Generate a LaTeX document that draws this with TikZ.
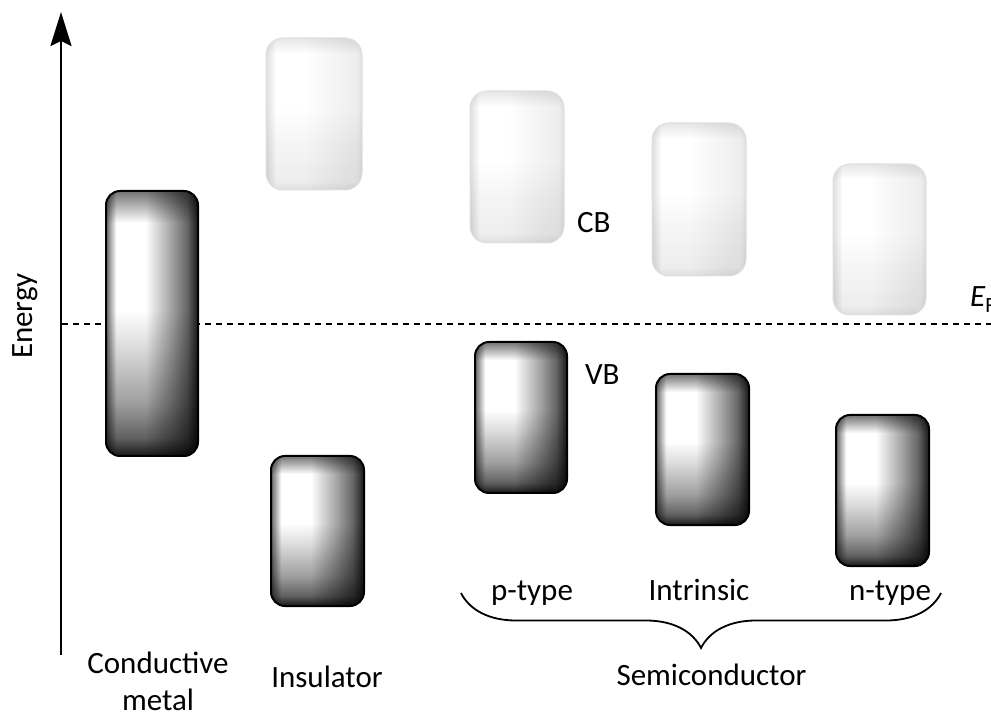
\documentclass[tikz,border=0pt]{standalone}
\usepackage{fontspec}
\setmainfont{Carlito}
\usetikzlibrary{arrows.meta,decorations.pathreplacing}
\pgfdeclarehorizontalshading{hdark}{100bp}{color(0bp)=(black!60); color(25bp)=(black!60); color(30.5bp)=(white); color(46.5bp)=(white); color(60bp)=(black!35); color(69bp)=(black!60); color(75bp)=(black!90); color(100bp)=(black!90)}
\pgfdeclareverticalshading{vdark}{100bp}{color(0bp)=(black!90); color(25bp)=(black!90); color(28.5bp)=(black!62); color(35bp)=(black!38); color(45bp)=(black!15); color(52.5bp)=(white); color(69bp)=(white); color(75bp)=(black!55); color(100bp)=(black!55)}
\pgfdeclarehorizontalshading{hlight}{100bp}{color(0bp)=(black!13); color(25bp)=(black!13); color(30bp)=(white); color(45bp)=(white); color(60bp)=(black!4); color(72bp)=(black!7); color(75bp)=(black!13); color(100bp)=(black!13)}
\pgfdeclareverticalshading{vlight}{100bp}{color(0bp)=(black!13); color(25bp)=(black!13); color(28bp)=(black!7); color(40bp)=(black!4); color(52bp)=(white); color(70bp)=(white); color(75bp)=(black!10); color(100bp)=(black!10)}
\tikzset{
  band/.style={rectangle, rounded corners=14pt, inner sep=0pt, outer sep=0pt},
  vbox/.style={band, draw=black, line width=2pt, shade, shading=hdark,
    path picture={\shade[shading=vdark, blend mode=multiply] (path picture bounding box.south west) rectangle (path picture bounding box.north east);}},
  cbox/.style={band, rounded corners=17pt, draw=black!12, line width=1pt, shade, shading=hlight,
    path picture={\shade[shading=vlight, blend mode=multiply] (path picture bounding box.south west) rectangle (path picture bounding box.north east);}},
  lbl/.style={font=\fontsize{31}{33}\selectfont, inner sep=0pt, outer sep=0pt},
}
\begin{document}
\begin{tikzpicture}[x=1pt,y=1pt]
\useasboundingbox (0,0) rectangle (991,713);
% axis and Fermi level
\coordinate (ax0) at (61,58);
\coordinate (ax1) at (61,701);
\coordinate (ef0) at (62,389);
\coordinate (ef1) at (991,389);
\draw[line width=1.5pt, dash pattern=on 6pt off 5pt] (ef0) -- (ef1);
\draw[line width=2.5pt, -{Stealth[length=34pt, width=21pt, inset=5pt]}] (ax0) -- (ax1);
% bands
\node[vbox, minimum width=92pt, minimum height=265pt] (metal) at (152,389.5) {};
\node[cbox, minimum width=96pt, minimum height=152pt] (insCB) at (314,599) {};
\node[vbox, minimum width=93pt, minimum height=150pt] (insVB) at (317.5,182) {};
\node[cbox, minimum width=94pt, minimum height=152pt] (pCB) at (517,546) {};
\node[vbox, minimum width=92pt, minimum height=151pt] (pVB) at (521,295.5) {};
\node[cbox, minimum width=94pt, minimum height=153pt] (iCB) at (699,513.5) {};
\node[vbox, minimum width=93pt, minimum height=151pt] (iVB) at (702.5,263.5) {};
\node[cbox, minimum width=93pt, minimum height=151pt] (nCB) at (879.5,473.5) {};
\node[vbox, minimum width=93pt, minimum height=151pt] (nVB) at (882.5,222.5) {};
% labels
\node[lbl, rotate=90, anchor=base] (energy) at (32,397) {Energy};
\node[lbl, anchor=base west] (ef) at (970,406) {\textit{E}\textsubscript{F}};
\node[lbl, anchor=base west] (cb) at (577,480) {CB};
\node[lbl, anchor=base west] (vb) at (585,328) {VB};
\node[lbl, anchor=base] (cond) at (158,40) {Conductive};
\node[lbl, anchor=base] (metl) at (158,2.5) {metal};
\node[lbl, anchor=base] (ins) at (327,26) {Insulator};
\node[lbl, anchor=base] (ptype) at (532,113) {p-type};
\node[lbl, anchor=base] (intr) at (699,113) {Intrinsic};
\node[lbl, anchor=base] (ntype) at (890,113) {n-type};
\node[lbl, anchor=base] (semi) at (711.5,28) {Semiconductor};
% brace
\coordinate (brR) at (941,120);
\coordinate (brL) at (461,120);
\draw[line width=1.8pt, decorate, decoration={brace, amplitude=55pt}] (brR) -- (brL);
\end{tikzpicture}
\end{document}
